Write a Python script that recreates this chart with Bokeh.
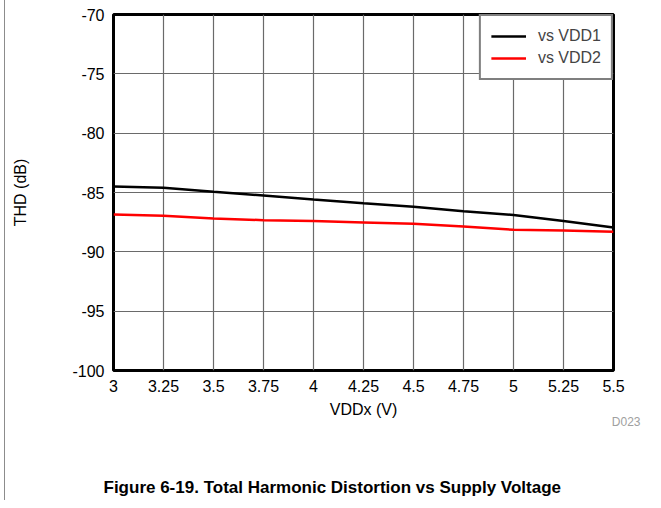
from bokeh.plotting import figure
from bokeh.models import Range1d, FixedTicker, Legend, LegendItem, Title
from bokeh.embed import file_html
from bokeh.resources import INLINE

# ---- data ----
vdd = [3.0, 3.25, 3.5, 3.75, 4.0, 4.25, 4.5, 4.75, 5.0, 5.25, 5.5]
thd_vdd1 = [-84.5, -84.6, -84.94, -85.25, -85.59, -85.9, -86.2, -86.57, -86.9, -87.4, -87.95]
thd_vdd2 = [-86.85, -86.96, -87.19, -87.33, -87.41, -87.52, -87.63, -87.86, -88.14, -88.2, -88.3]
series_names = ["vs VDD1", "vs VDD2"]
x_ticks = [3.0, 3.25, 3.5, 3.75, 4.0, 4.25, 4.5, 4.75, 5.0, 5.25, 5.5]
x_tick_labels = ["3", "3.25", "3.5", "3.75", "4", "4.25", "4.5", "4.75", "5", "5.25", "5.5"]
y_ticks = [-100, -95, -90, -85, -80, -75, -70]
y_tick_labels = ["-100", "-95", "-90", "-85", "-80", "-75", "-70"]
x_title = "VDDx (V)"
y_title = "THD (dB)"
caption = "Figure 6-19. Total Harmonic Distortion vs Supply Voltage"
code_tag = "D023"

FONT = "Liberation Sans"

p = figure(width=645, height=500, output_backend="svg", toolbar_location=None,
           x_range=Range1d(3.0, 5.5), y_range=Range1d(-100, -70),
           min_border_left=108, min_border_right=37, min_border_top=14, min_border_bottom=130,
           background_fill_color="white", border_fill_color="white")
p.styles = {"border-left": "1px solid #8c8c8c", "margin-left": "4px"}

p.outline_line_color = "black"
p.outline_line_width = 3

for ax, ticks, labels in ((p.xaxis[0], x_ticks, x_tick_labels), (p.yaxis[0], y_ticks, y_tick_labels)):
    ax.ticker = FixedTicker(ticks=ticks)
    ax.major_label_overrides = {t: l for t, l in zip(ticks, labels)}
    ax.axis_line_color = None
    ax.major_tick_in = 0
    ax.major_tick_out = 0
    ax.minor_tick_in = 0
    ax.minor_tick_out = 0
    ax.major_label_text_font = FONT
    ax.major_label_text_font_size = "16px"
    ax.major_label_text_color = "black"
    ax.axis_label_text_font = FONT
    ax.axis_label_text_font_size = "16px"
    ax.axis_label_text_font_style = "normal"
    ax.axis_label_text_color = "black"

p.xaxis[0].axis_label = x_title
p.xaxis[0].major_label_standoff = 9
p.xaxis[0].axis_label_standoff = 6
p.yaxis[0].axis_label = y_title
p.yaxis[0].major_label_standoff = 9
p.yaxis[0].axis_label_standoff = 40

p.xgrid.ticker = FixedTicker(ticks=x_ticks)
p.ygrid.ticker = FixedTicker(ticks=y_ticks)
for g in (p.xgrid[0], p.ygrid[0]):
    g.grid_line_color = "#6a6a6a"
    g.grid_line_width = 1.2
    g.grid_line_alpha = 1.0

r1 = p.line(vdd, thd_vdd1, line_color="black", line_width=2.5)
r2 = p.line(vdd, thd_vdd2, line_color="#ff0000", line_width=2.5)

legend = Legend(items=[LegendItem(label=series_names[0], renderers=[r1]),
                       LegendItem(label=series_names[1], renderers=[r2])],
                location="top_right", margin=0, padding=10, spacing=2,
                glyph_width=35, glyph_height=20, label_height=20, label_standoff=12,
                label_text_font=FONT, label_text_font_size="16px",
                border_line_color="black", border_line_width=2,
                background_fill_color="white", background_fill_alpha=1.0)
p.add_layout(legend, "center")

p.add_layout(Title(text=code_tag, align="right", offset=-27, standoff=-16,
                   text_font=FONT, text_font_size="12px", text_font_style="normal",
                   text_color="#a0a0a0"), "below")
# blank spacer between the code tag and the caption
p.add_layout(Title(text=" ", align="left", standoff=39,
                   text_font=FONT, text_font_size="12px"), "below")
p.add_layout(Title(text=caption, align="left", offset=-10, standoff=0,
                   text_font=FONT, text_font_size="17px", text_font_style="bold",
                   text_color="black"), "below")

open("out.html", "w").write(file_html(p, INLINE))
